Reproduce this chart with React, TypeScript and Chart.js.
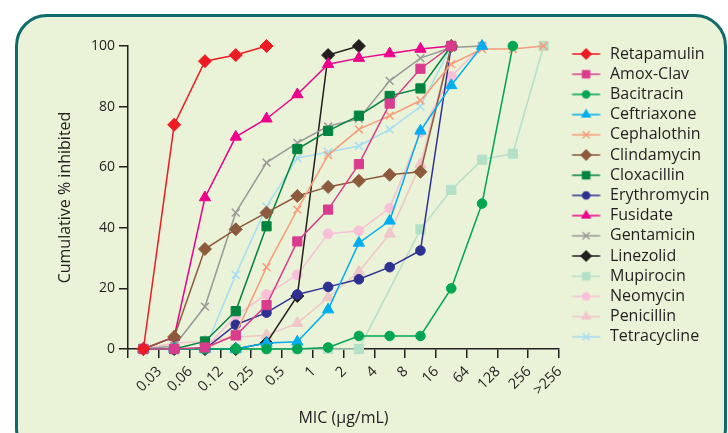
import React, { useEffect, useRef } from 'react';
import { Chart, registerables } from 'chart.js';

Chart.register(...registerables);

// ---------- DATA ----------
const categories = ['0.03', '0.06', '0.12', '0.25', '0.5', '1', '2', '4', '8', '16', '64', '128', '256', '>256'];
const yTickValues = [0, 20, 40, 60, 80, 100];
const xTitle = 'MIC (μg/mL)';
const yTitle = 'Cumulative % inhibited';

const seriesNames = [
  'Retapamulin', 'Amox-Clav', 'Bacitracin', 'Ceftriaxone', 'Cephalothin',
  'Clindamycin', 'Cloxacillin', 'Erythromycin', 'Fusidate', 'Gentamicin',
  'Linezolid', 'Mupirocin', 'Neomycin', 'Penicillin', 'Tetracycline',
];

const retapamulin = [0, 74, 95, 97, 100, null, null, null, null, null, null, null, null, null];
const amoxClav = [0, 0, 0.5, 4.5, 14.5, 35.5, 46, 61, 81, 92.5, 100, null, null, null];
const bacitracin = [0, 0, 0, 0, 0, 0, 0.5, 4.3, 4.3, 4.3, 20, 48, 100, null];
const ceftriaxone = [0, 0, 0, 0, 2, 2.4, 13, 35, 42.3, 72, 87, 100, null, null];
const cephalothin = [0, 0, 0, 5, 27, 46, 64, 72.5, 77, 82, 94, 99, 99, 100];
const clindamycin = [0, 4, 33, 39.5, 45, 50.5, 53.5, 55.5, 57.5, 58.5, 100, null, null, null];
const cloxacillin = [0, 0, 2.5, 12.5, 40.5, 66, 72, 77, 83.5, 86, 100, null, null, null];
const erythromycin = [0, 0, 0, 8, 12, 18, 20.5, 23, 27, 32.5, 100, null, null, null];
const fusidate = [0, 4, 50, 70, 76, 84, 94, 96, 97.5, 99, 100, null, null, null];
const gentamicin = [0, 1, 14, 45, 61.5, 68, 73.5, 76, 88.5, 96, 99.5, 100, null, null];
const linezolid = [0, 0, 0, 0, 2, 17.5, 97, 100, null, null, null, null, null, null];
const mupirocin = [0, 0, 0, 0, 0, 0, 0, 0, null, 39.5, 52.5, 62.5, 64.5, 100];
const neomycin = [0, 0, 0, 11, 18, 24.5, 38, 39, 46.5, 71.5, 90, 100, null, null];
const penicillin = [0, 2, 2.5, 4, 4.5, 8.5, 17, 25.5, 38, 61, 100, null, null, null];
const tetracycline = [0, 0, 0, 24.5, 47, 63, 65, 67, 72.5, 80, 100, null, null, null];

const seriesValues = [
  retapamulin, amoxClav, bacitracin, ceftriaxone, cephalothin,
  clindamycin, cloxacillin, erythromycin, fusidate, gentamicin,
  linezolid, mupirocin, neomycin, penicillin, tetracycline,
];

const seriesColors = [
  '#ED1C24', '#D93C8E', '#00A651', '#00AEEF', '#F79C7A',
  '#8C5A3C', '#00843F', '#2E3192', '#EC008C', '#999999',
  '#231F20', '#B5E0C8', '#F8BFD8', '#F0C6C8', '#A6DDF4',
];

const seriesMarkers = [
  'rectRot', 'rect', 'circle', 'triangle', 'crossRot',
  'rectRot', 'rect', 'circle', 'triangle', 'crossRot',
  'rectRot', 'rect', 'circle', 'triangle', 'crossRot',
];

// ---------- STYLE ----------
const FONT = '"Open Sans", "Noto Sans", sans-serif';
const TEXT = '#231F20';

const markerRadius: Record<string, number> = {
  rectRot: 6.5, rect: 6.5, circle: 4.8, triangle: 6.5, crossRot: 5.5,
};

function drawMarker(ctx: CanvasRenderingContext2D, style: string, x: number, y: number, r: number) {
  ctx.beginPath();
  if (style === 'circle') {
    ctx.arc(x, y, r, 0, Math.PI * 2);
    ctx.fill();
  } else if (style === 'rect') {
    const s = r * Math.SQRT1_2;
    ctx.rect(x - s, y - s, 2 * s, 2 * s);
    ctx.fill();
  } else if (style === 'rectRot') {
    ctx.moveTo(x, y - r);
    ctx.lineTo(x + r, y);
    ctx.lineTo(x, y + r);
    ctx.lineTo(x - r, y);
    ctx.closePath();
    ctx.fill();
  } else if (style === 'triangle') {
    for (let k = 0; k < 3; k++) {
      const a = (k * 2 * Math.PI) / 3;
      const px = x + Math.sin(a) * r;
      const py = y - Math.cos(a) * r;
      if (k === 0) ctx.moveTo(px, py); else ctx.lineTo(px, py);
    }
    ctx.closePath();
    ctx.fill();
  } else if (style === 'crossRot') {
    const d = r * Math.SQRT1_2;
    ctx.moveTo(x - d, y - d);
    ctx.lineTo(x + d, y + d);
    ctx.moveTo(x + d, y - d);
    ctx.lineTo(x - d, y + d);
    ctx.stroke();
  }
}

function makeLegendImage(color: string, style: string): HTMLCanvasElement {
  const c = document.createElement('canvas');
  c.width = 38;
  c.height = 18;
  const ctx = c.getContext('2d')!;
  ctx.strokeStyle = color;
  ctx.fillStyle = color;
  ctx.lineWidth = 1.5;
  ctx.beginPath();
  ctx.moveTo(8.5, 9);
  ctx.lineTo(36.5, 9);
  ctx.stroke();
  drawMarker(ctx, style, 22.5, 9, markerRadius[style] - 0.5);
  return c;
}

export default function App() {
  const canvasRef = useRef<HTMLCanvasElement | null>(null);

  useEffect(() => {
    const canvas = canvasRef.current;
    if (!canvas) return;

    const legendFontSize = 16;
    const legendPad = 4.2;
    const legendBox = 38.8;
    const m = document.createElement('canvas').getContext('2d')!;
    m.font = `normal ${legendFontSize}px ${FONT}`;
    const maxW = Math.max(...seriesNames.map((n) => m.measureText(n).width));
    const legendWidth = legendPad + legendBox + legendFontSize / 2 + maxW + 10;
    const rightPad = 728 - 559 - legendWidth;

    const legendImages = seriesNames.map((_, i) => makeLegendImage(seriesColors[i], seriesMarkers[i]));

    const datasets = seriesNames.map((name, i) => ({
      label: name,
      data: seriesValues[i],
      borderColor: seriesColors[i],
      backgroundColor: seriesColors[i],
      pointBackgroundColor: seriesColors[i],
      pointBorderColor: seriesColors[i],
      pointStyle: seriesMarkers[i],
      pointRadius: markerRadius[seriesMarkers[i]],
      pointBorderWidth: seriesMarkers[i] === 'crossRot' ? 1.5 : 1,
      borderWidth: 1.5,
      tension: 0,
      spanGaps: true,
      clip: false as any,
    }));

    const chart = new Chart(canvas, {
      type: 'line',
      data: { labels: categories, datasets },
      options: {
        animation: false,
        responsive: false,
        devicePixelRatio: 1,
        layout: { padding: { top: 41.8, left: 50, right: rightPad, bottom: 0 } },
        plugins: {
          tooltip: { enabled: false },
          legend: {
            position: 'right',
            align: 'start',
            labels: {
              usePointStyle: true,
              pointStyleWidth: legendBox,
              padding: legendPad,
              color: TEXT,
              font: { family: FONT, size: legendFontSize },
              generateLabels: (ch: any) =>
                ch.data.datasets.map((ds: any, i: number) => ({
                  text: ds.label,
                  pointStyle: legendImages[i],
                  fillStyle: ds.borderColor,
                  strokeStyle: ds.borderColor,
                  fontColor: TEXT,
                  lineWidth: 0,
                  hidden: false,
                  datasetIndex: i,
                })),
            },
          },
        },
        scales: {
          x: {
            type: 'category',
            offset: true,
            grid: {
              offset: true,
              drawOnChartArea: false,
              drawTicks: true,
              tickLength: 9,
              color: TEXT,
              lineWidth: 1.5,
            },
            border: { display: true, color: TEXT, width: 1.5 },
            ticks: {
              autoSkip: false,
              maxRotation: 45,
              minRotation: 45,
              padding: 5,
              labelOffset: 16,
              color: TEXT,
              font: { family: FONT, size: 14.5 },
            },
            title: {
              display: true,
              text: xTitle,
              color: TEXT,
              font: { family: FONT, size: 16 },
              padding: { top: 0, bottom: 5.4 },
            },
            afterFit: (s: any) => {
              s.height = 84;
            },
          },
          y: {
            min: 0,
            max: 100,
            afterBuildTicks: (s: any) => {
              s.ticks = yTickValues.map((v) => ({ value: v }));
            },
            grid: {
              drawOnChartArea: false,
              drawTicks: true,
              tickLength: 9,
              color: TEXT,
              lineWidth: 1.5,
            },
            border: { display: true, color: TEXT, width: 1.5 },
            ticks: {
              padding: 4,
              color: TEXT,
              font: { family: FONT, size: 14 },
            },
            title: {
              display: true,
              text: yTitle,
              color: TEXT,
              font: { family: FONT, size: 16 },
              padding: { top: 5.4, bottom: 0 },
            },
            afterFit: (s: any) => {
              s.width = 78;
              s.paddingTop = 46;
            },
          },
        },
      } as any,
    });

    return () => chart.destroy();
  }, []);

  return (
    <div
      style={{
        position: 'fixed',
        left: 0,
        top: 0,
        width: 728,
        height: 433,
        background: '#ffffff',
        overflow: 'hidden',
      }}
    >
      <div
        style={{
          position: 'absolute',
          left: 15,
          top: 14,
          width: 706,
          height: 440,
          border: '3px solid #0E6A6D',
          borderRadius: 32,
          background: '#EAF2D7',
        }}
      />
      <canvas
        ref={canvasRef}
        width={728}
        height={433}
        style={{ position: 'absolute', left: 0, top: 0, width: 728, height: 433 }}
      />
    </div>
  );
}
